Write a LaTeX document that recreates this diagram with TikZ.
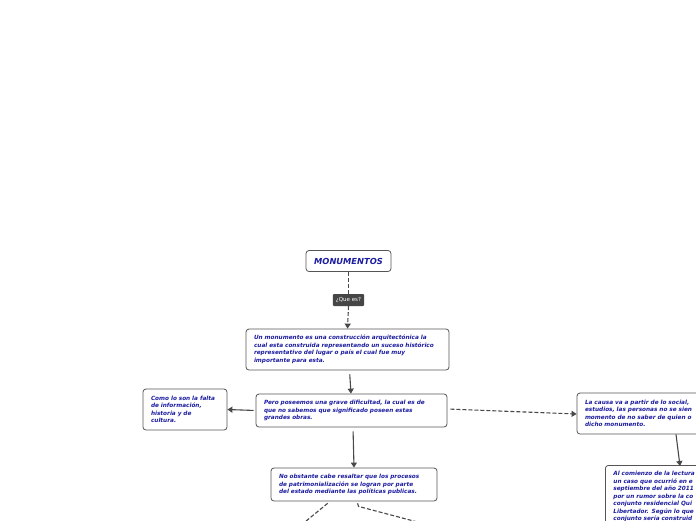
\documentclass[tikz,border=0pt]{standalone}
\usepackage{fontspec}
\setmainfont{DejaVu Sans}
\usetikzlibrary{arrows.meta}
\definecolor{txtblue}{RGB}{28,28,160}
\definecolor{edgecol}{RGB}{72,72,72}
\definecolor{bordercol}{RGB}{85,85,85}
\definecolor{labelbg}{RGB}{70,70,70}
\begin{document}
\begin{tikzpicture}[x=1pt,y=-1pt,
  box/.style={draw=bordercol, line width=0.8pt, rounded corners=3pt, fill=white,
    inner xsep=8pt, inner ysep=0pt, align=left, text=txtblue,
    font=\fontsize{5.75}{7.5}\selectfont\bfseries\itshape},
  conn/.style={draw=edgecol, line width=1.1pt, -{Triangle[length=5pt,width=6pt]}},
  dconn/.style={conn, dash pattern=on 4pt off 2pt},
  dline/.style={draw=edgecol, line width=1.1pt, dash pattern=on 4pt off 2pt},
  qlabel/.style={fill=labelbg, text=white, rounded corners=1pt, inner xsep=3pt, inner ysep=0pt,
    minimum height=12pt, font=\fontsize{5.5}{6}\selectfont}
]
\useasboundingbox (0,0) rectangle (696,520);
\clip (0,0) rectangle (696,520);
\fill[white] (0,0) rectangle (696,520);

% nodes
\node[box, minimum width=85pt, minimum height=21pt, align=center,
  font=\fontsize{8.3}{9}\selectfont\bfseries\itshape] (m) at (348.5,261) {MONUMENTOS};
\node[qlabel] (q) at (348.5,300) {¿Que es?};

\node[box, text width=187pt, minimum height=41pt] (n1) at (347.5,349.5)
 {Un monumento es una construcción arquitectónica la\\
  cual esta construida representando un suceso histórico\\
  representativo del lugar o país el cual fue muy\\
  importante para esta.};

\node[box, text width=175pt, minimum height=33pt] (n2) at (351.5,410.5)
 {Pero poseemos una grave dificultad, la cual es de\\
  que no sabemos que significado poseen estas\\
  grandes obras.};

\node[box, text width=68pt, minimum height=41pt] (n3) at (185,409.5)
 {Como lo son la falta\\
  de información,\\
  historia y de\\
  cultura.};

\node[box, text width=150pt, minimum height=33pt] (n4) at (354,484.5)
 {No obstante cabe resaltar que los procesos\\
  de patrimonialización se logran por parte\\
  del estado mediante las políticas publicas.};

\node[box, text width=184pt, minimum height=41pt] (n5) at (677,413.5)
 {La causa va a partir de lo social, \\
  estudios, las personas no se sien\\
  momento de no saber de quien o\\
  dicho monumento.};

\node[box, anchor=north west, text width=184pt, inner ysep=6pt] (n6) at (605,465)
 {Al comienzo de la lectura\\
  un caso que ocurrió en e\\
  septiembre del año 2011\\
  por un rumor sobre la co\\
  conjunto residencial Qui\\
  Libertador. Según lo que\\
  conjunto sería construid};

\coordinate (c1) at (300,526);
\coordinate (c2) at (425,524);

% connectors
\draw[dline] (m.south) -- (q.north);
\draw[dconn] (q.south) -- (n1.north);
\draw[conn, shorten <=4pt] ([xshift=2pt]n1.south) -- ([xshift=-0.5pt]n2.north);
\draw[conn, shorten <=2pt] (n2.west) -- (n3.east);
\draw[dconn, shorten <=3pt] ([yshift=1.5pt]n2.east) -- ([yshift=-0.5pt]n5.west);
\draw[conn, shorten <=4pt] ([xshift=1.5pt]n2.south) -- ([xshift=0pt]n4.north);
\draw[conn] ([xshift=-1pt]n5.south) -- ([xshift=3pt,yshift=-1pt]n6.north west -| n5.south);
\draw[dline, shorten <=3pt] ([xshift=-24pt]n4.south) -- (c1);
\draw[dline, shorten <=2pt] ([xshift=3pt]n4.south) -- ++(1.5,5) -- (c2);
\end{tikzpicture}
\end{document}
